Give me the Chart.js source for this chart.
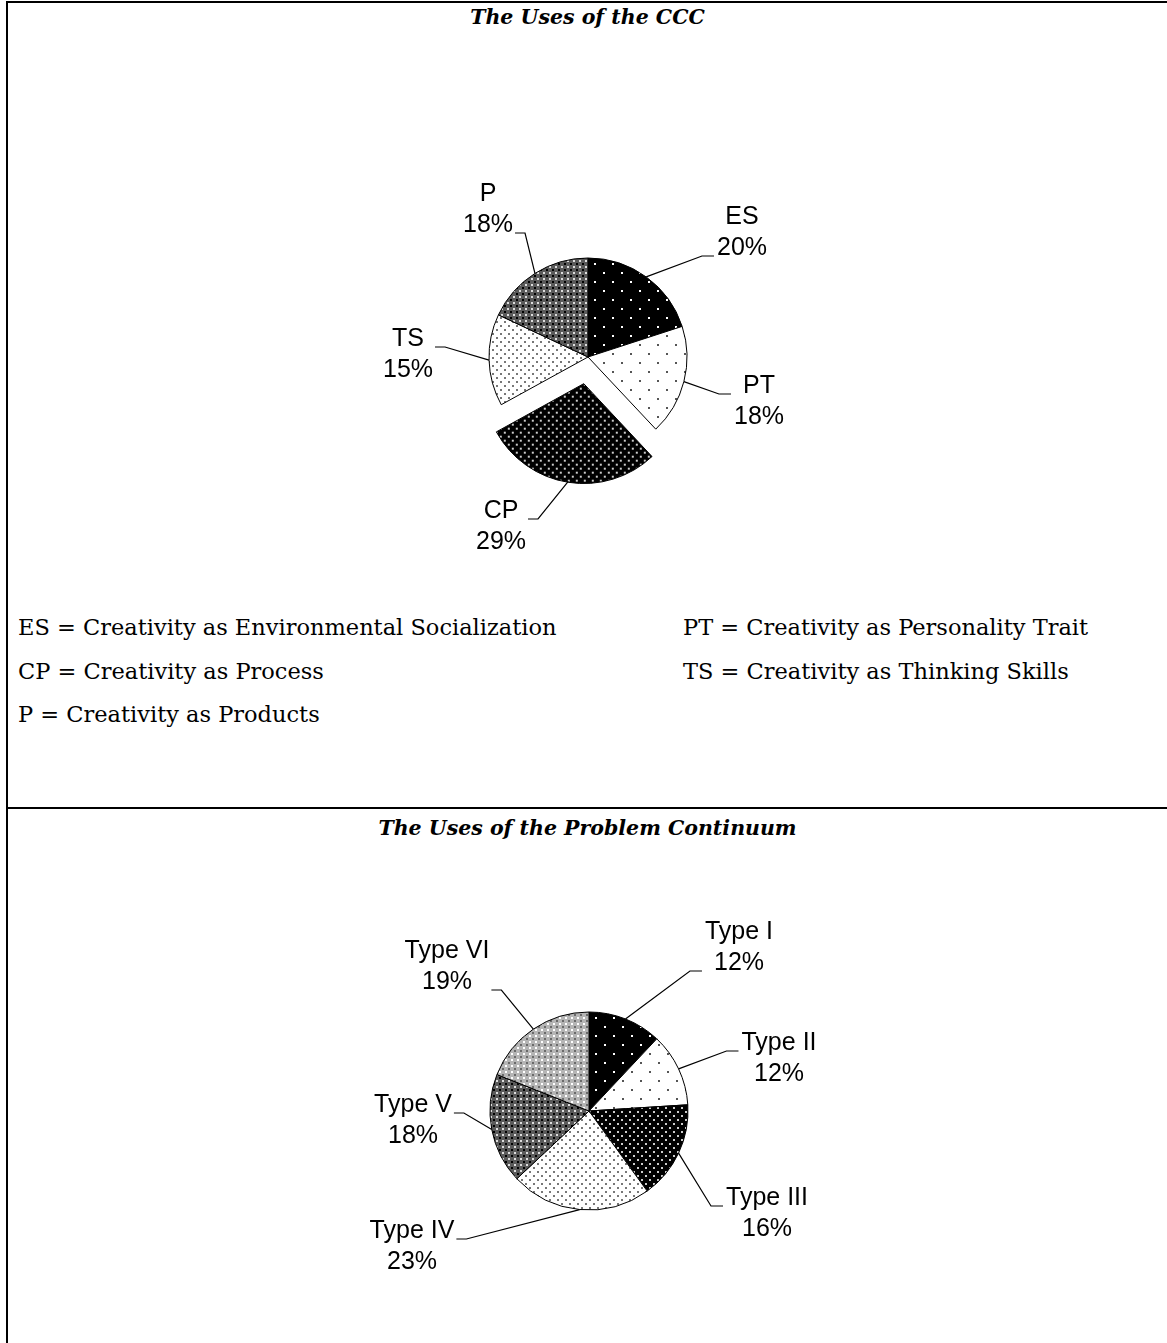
<!DOCTYPE html>
<html>
<head>
    <title>The Uses of the CCC / Problem Continuum</title>
    <script src="https://cdn.jsdelivr.net/npm/chart.js"></script>
    <style>
        body {
            margin: 0;
            background: #fff;
            width: 1167px;
            height: 1343px;
            position: relative;
            overflow: hidden;
        }
        .rule { position: absolute; background: #000; }
        .title {
            position: absolute;
            left: 8px;
            right: 0;
            text-align: center;
            font-family: 'Palatino Linotype', 'Book Antiqua', Palatino, 'DejaVu Serif', serif;
            font-style: italic;
            font-weight: bold;
            font-size: 20.5px;
            line-height: 24px;
        }
        .key {
            position: absolute;
            font-family: 'Palatino Linotype', 'Book Antiqua', Palatino, 'DejaVu Serif', serif;
            font-size: 22.5px;
            line-height: 26px;
            white-space: nowrap;
        }
        .pie { position: absolute; }
    </style>
</head>
<body>
    <div class="rule" style="left:6px; top:1px; width:2px; height:1342px;"></div>
    <div class="rule" style="left:6px; top:1px; right:0; height:2px;"></div>
    <div class="rule" style="left:6px; top:807px; right:0; height:2px;"></div>

    <div class="title" style="top:5px;">The Uses of the CCC</div>
    <div class="pie" style="left:288px; top:137px;"><canvas id="cccChart" width="600" height="440"></canvas></div>
    <div id="cccKey"></div>

    <div class="title" style="top:816px;">The Uses of the Problem Continuum</div>
    <div class="pie" style="left:289px; top:891px;"><canvas id="continuumChart" width="600" height="440"></canvas></div>

    <script>
        // chart data
        const cccLabels = ['ES', 'PT', 'CP', 'TS', 'P'];
        const cccValues = [20, 18, 29, 15, 18];
        const cccKeyText = [
            'ES = Creativity as Environmental Socialization',
            'PT = Creativity as Personality Trait',
            'CP = Creativity as Process',
            'TS = Creativity as Thinking Skills',
            'P = Creativity as Products'
        ];

        const continuumLabels = ['Type I', 'Type II', 'Type III', 'Type IV', 'Type V', 'Type VI'];
        const continuumValues = [12, 12, 16, 23, 18, 19];

        // label placement, offset from the pie centre (px)
        const cccLabelPos = [[154, -124], [171, 45], [-87, 170], [-180, -2], [-100, -147]];
        const continuumLabelPos = [[150, -163], [190, -52], [178, 103], [-177, 136], [-176, 10], [-142, -144]];

        function dotPattern(bg, fg, step, dot) {
            let c = document.createElement('canvas');
            c.width = c.height = step;
            let g = c.getContext('2d');
            g.fillStyle = bg;
            g.fillRect(0, 0, step, step);
            g.fillStyle = fg;
            g.fillRect(0, 0, dot, dot);
            g.fillRect(step / 2, step / 2, dot, dot);
            return g.createPattern(c, 'repeat');
        }

        function checkPattern(bg, a, b) {
            let c = document.createElement('canvas');
            c.width = c.height = 6;
            let g = c.getContext('2d');
            g.fillStyle = bg;
            g.fillRect(0, 0, 6, 6);
            g.fillStyle = a;
            g.fillRect(0, 0, 2, 2);
            g.fillStyle = b;
            g.fillRect(3, 3, 2, 2);
            return g.createPattern(c, 'repeat');
        }

        const blackSparse = dotPattern('#000', '#fff', 18, 2);
        const whiteSparse = dotPattern('#fff', '#555', 18, 2);
        const blackDense = dotPattern('#000', '#ccc', 8, 2);
        const whiteDense = dotPattern('#fff', '#777', 8, 2);
        const darkCheck = checkPattern('#5a5a5a', '#000', '#ddd');
        const lightCheck = checkPattern('#b5b5b5', '#fff', '#6a6a6a');

        function leaderPlugin(labelPos) {
            return {
                id: 'leaders',
                afterDatasetsDraw(chart) {
                    let ctx = chart.ctx;
                    let meta = chart.getDatasetMeta(0);
                    let data = chart.data.datasets[0].data;
                    ctx.save();
                    ctx.font = '25px "Liberation Sans", Arial, sans-serif';
                    ctx.textAlign = 'center';
                    ctx.textBaseline = 'middle';
                    ctx.fillStyle = '#000';
                    ctx.strokeStyle = '#000';
                    ctx.lineWidth = 1.2;
                    meta.data.forEach((arc, i) => {
                        let mid = (arc.startAngle + arc.endAngle) / 2;
                        let shift = (arc.options.offset || 0) / 4;
                        let ax = arc.x + Math.cos(mid) * (shift + arc.outerRadius);
                        let ay = arc.y + Math.sin(mid) * (shift + arc.outerRadius);
                        let cx = arc.x + labelPos[i][0];
                        let cy = arc.y + labelPos[i][1];
                        let l1 = chart.data.labels[i];
                        let l2 = data[i] + '%';
                        ctx.fillText(l1, cx, cy - 15.5);
                        ctx.fillText(l2, cx, cy + 15.5);
                        let w = Math.max(ctx.measureText(l1).width, ctx.measureText(l2).width);
                        let py = (cy + 31 < ay) ? cy + 23 : cy - 8;
                        let px, ex;
                        if (cx > ax) {
                            px = cx - w / 2 - 3;
                            ex = px - 12;
                        } else {
                            px = cx + w / 2 + 2;
                            ex = px + 10;
                        }
                        ctx.beginPath();
                        ctx.moveTo(px, py);
                        ctx.lineTo(ex, py);
                        ctx.lineTo(ax, ay);
                        ctx.stroke();
                    });
                    ctx.restore();
                }
            };
        }

        function drawPie(id, labels, values, fills, offsets, labelPos) {
            new Chart(document.getElementById(id), {
                type: 'pie',
                data: {
                    labels: labels,
                    datasets: [{
                        data: values,
                        backgroundColor: fills,
                        borderColor: '#000',
                        borderWidth: 1,
                        offset: offsets
                    }]
                },
                options: {
                    responsive: false,
                    animation: false,
                    radius: 99,
                    layout: { padding: 0 },
                    plugins: {
                        legend: { display: false },
                        tooltip: { enabled: false }
                    }
                },
                plugins: [leaderPlugin(labelPos)]
            });
        }

        drawPie('cccChart', cccLabels, cccValues,
            [blackSparse, whiteSparse, blackDense, whiteDense, darkCheck],
            [0, 0, 108, 0, 0], cccLabelPos);

        drawPie('continuumChart', continuumLabels, continuumValues,
            [blackSparse, whiteSparse, blackDense, whiteDense, darkCheck, lightCheck],
            [0, 0, 0, 0, 0, 0], continuumLabelPos);

        // key below the first pie, two columns
        let keyBox = document.getElementById('cccKey');
        cccKeyText.forEach((t, i) => {
            let d = document.createElement('div');
            d.className = 'key';
            d.textContent = t;
            d.style.left = (i % 2 === 0 ? 18 : 683) + 'px';
            d.style.top = (614 + Math.floor(i / 2) * 43.5) + 'px';
            keyBox.appendChild(d);
        });
    </script>
</body>
</html>
